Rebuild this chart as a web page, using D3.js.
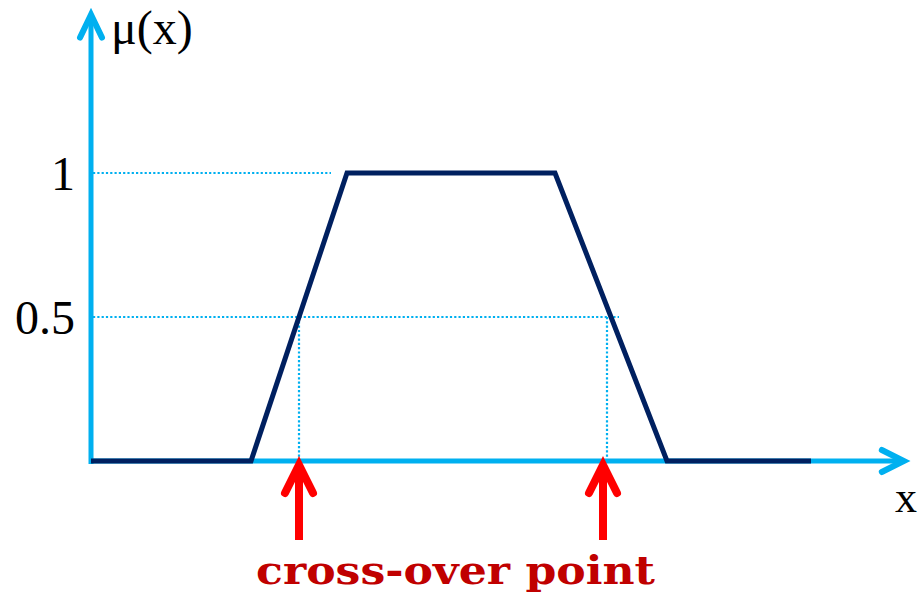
<!DOCTYPE html>
<html>
<head>
<meta charset="utf-8">
<script src="https://cdn.jsdelivr.net/npm/d3@7"></script>
<style>
  html, body { margin: 0; padding: 0; background: #fff; }
  svg { display: block; }
</style>
</head>
<body>
<svg id="chart" width="918" height="594"></svg>
<script>
// ---- data ----
const xBreaks = [0, 10, 16, 29, 36, 45];      // trapezoid corner x-values
const muValues = [0, 0, 1, 1, 0, 0];          // membership at those corners
const yTickValues = [1, 0.5];
const yTickLabels = ["1", "0.5"];
const guideLevels = [1, 0.5];                 // dotted horizontal guides
const guideEnds = [15, 33];                   // where each dotted guide stops (x)
const crossoverGuides = [13, 32.25];          // dotted verticals at mu = 0.5
const crossoverArrows = [13, 32];             // red arrows
const xAxisEnd = 50.8;
const yAxisEnd = 1.55;
const axisTitleY = "μ(x)";
const axisTitleX = "x";
const annotation = "cross-over point";

// ---- layout ----
const svg = d3.select("#chart");
const x = d3.scaleLinear().domain([0, 45]).range([91, 811]);
const y = d3.scaleLinear().domain([0, 1]).range([461, 173]);

const AXIS = "#00B0F0", NAVY = "#002060", RED = "#FF0000", DARKRED = "#C00000";

// dotted guides
svg.selectAll("line.hguide").data(guideLevels).join("line")
  .attr("x1", x(0) + 2).attr("x2", (d, i) => x(guideEnds[i]))
  .attr("y1", d => y(d)).attr("y2", d => y(d))
  .attr("stroke", AXIS).attr("stroke-width", 2.2).attr("stroke-dasharray", "2.2 2.1");
svg.selectAll("line.vguide").data(crossoverGuides).join("line")
  .attr("x1", d => x(d)).attr("x2", d => x(d))
  .attr("y1", y(0.5)).attr("y2", y(0))
  .attr("stroke", AXIS).attr("stroke-width", 2.2).attr("stroke-dasharray", "2.2 2.1");

// axes lines with arrowheads
svg.append("line").attr("x1", x(0)).attr("x2", x(0)).attr("y1", y(0) + 3).attr("y2", y(yAxisEnd))
  .attr("stroke", AXIS).attr("stroke-width", 5);
svg.append("polyline")
  .attr("points", [[x(0) - 11, y(yAxisEnd) + 23], [x(0), y(yAxisEnd)], [x(0) + 11, y(yAxisEnd) + 23]].join(" "))
  .attr("fill", "none").attr("stroke", AXIS).attr("stroke-width", 6)
  .attr("stroke-linecap", "round").attr("stroke-linejoin", "miter");
svg.append("line").attr("x1", x(0) - 2).attr("x2", x(xAxisEnd)).attr("y1", y(0)).attr("y2", y(0))
  .attr("stroke", AXIS).attr("stroke-width", 5);
svg.append("polyline")
  .attr("points", [[x(xAxisEnd) - 22, y(0) - 11], [x(xAxisEnd), y(0)], [x(xAxisEnd) - 22, y(0) + 11]].join(" "))
  .attr("fill", "none").attr("stroke", AXIS).attr("stroke-width", 6)
  .attr("stroke-linecap", "round").attr("stroke-linejoin", "miter");

// y tick labels via d3 axis
const yAxis = d3.axisLeft(y).tickValues(yTickValues)
  .tickFormat((d, i) => yTickLabels[i]).tickSize(0).tickPadding(16);
const gy = svg.append("g").attr("transform", `translate(${x(0)},0)`).call(yAxis);
gy.select(".domain").remove();
gy.selectAll("text")
  .attr("font-family", "'Liberation Serif', serif").attr("font-size", 48)
  .attr("fill", "#000").attr("dy", "0.34em");

// trapezoid
const pts = xBreaks.map((d, i) => [d, muValues[i]]);
svg.append("path")
  .attr("d", d3.line().x(d => x(d[0])).y(d => y(d[1]))(pts))
  .attr("fill", "none").attr("stroke", NAVY).attr("stroke-width", 5)
  .attr("stroke-linejoin", "miter");

// red arrows
crossoverArrows.forEach(d => {
  const cx = x(d), tip = y(0) + 4;
  svg.append("line").attr("x1", cx).attr("x2", cx).attr("y1", 540).attr("y2", tip + 4)
    .attr("stroke", RED).attr("stroke-width", 8);
  svg.append("polyline")
    .attr("points", [[cx - 14, tip + 28], [cx, tip], [cx + 14, tip + 28]].join(" "))
    .attr("fill", "none").attr("stroke", RED).attr("stroke-width", 8)
    .attr("stroke-linecap", "round").attr("stroke-linejoin", "miter");
});

// axis titles
svg.append("text").attr("x", 111).attr("y", 44).text(axisTitleY)
  .attr("font-family", "'Liberation Serif', serif").attr("font-size", 48).attr("fill", "#000");
svg.append("text").attr("x", 895).attr("y", 512).text(axisTitleX)
  .attr("font-family", "'Liberation Serif', serif").attr("font-size", 44).attr("fill", "#000");

// annotation
svg.append("text").attr("x", 256).attr("y", 584).text(annotation)
  .attr("font-family", "'DejaVu Serif', serif").attr("font-weight", "bold")
  .attr("font-size", 40).attr("fill", DARKRED)
  .attr("textLength", 399).attr("lengthAdjust", "spacingAndGlyphs");
</script>
</body>
</html>
